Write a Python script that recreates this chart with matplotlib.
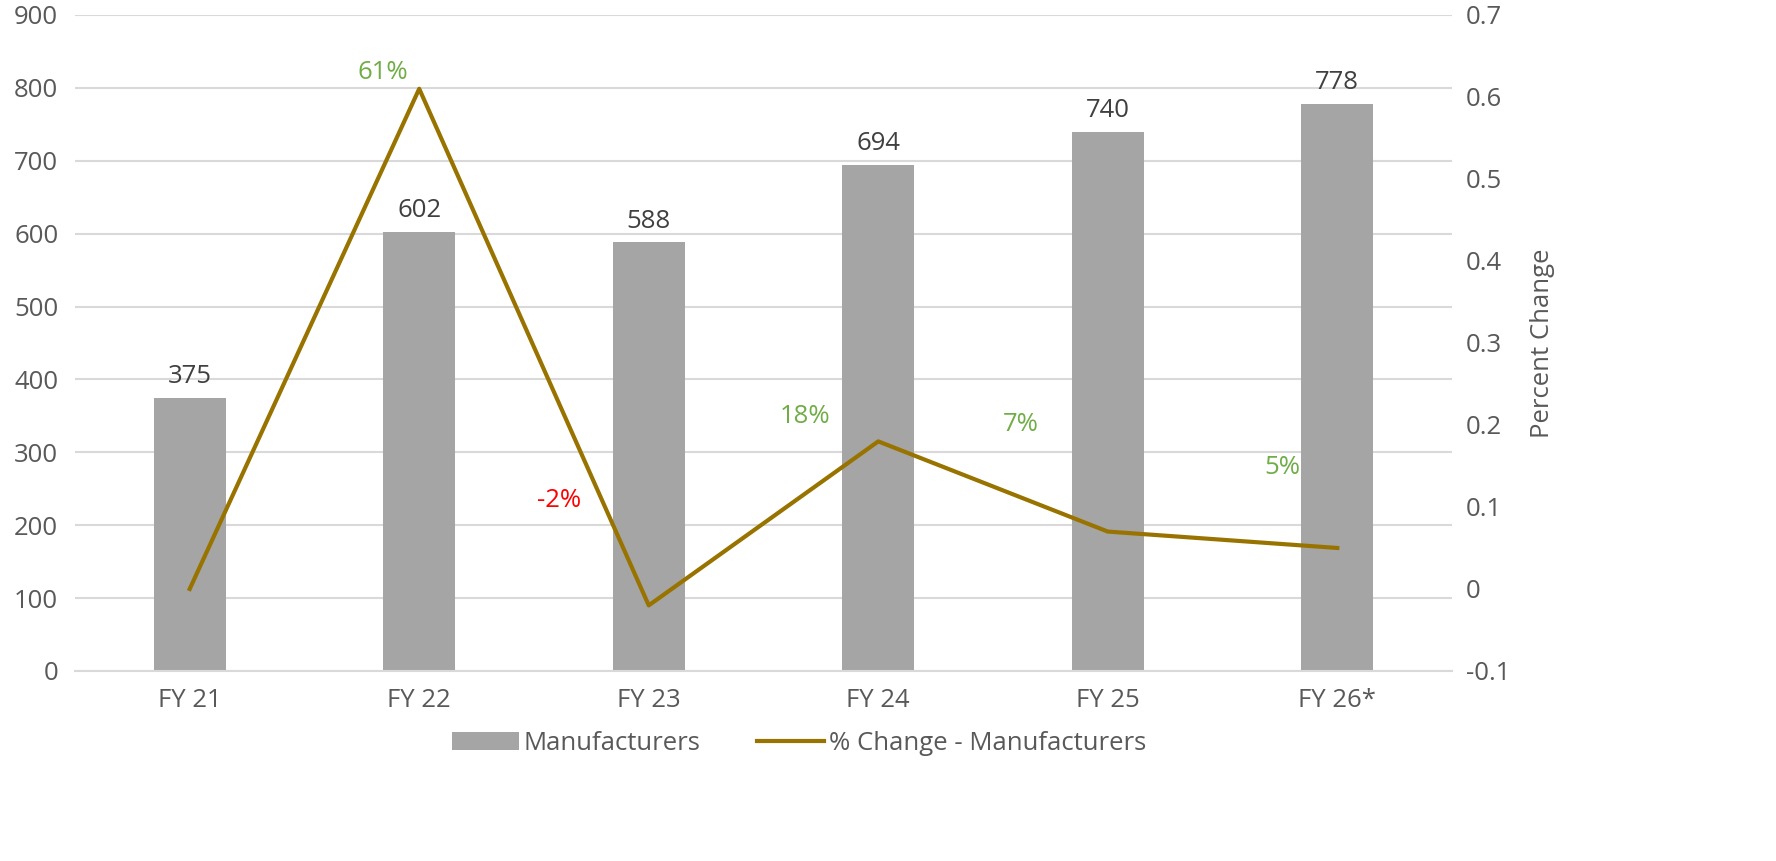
import matplotlib.pyplot as plt
from matplotlib.lines import Line2D
from matplotlib.patches import Patch

plt.rcParams['font.family'] = ['Open Sans', 'DejaVu Sans']

categories = ['FY 21', 'FY 22', 'FY 23', 'FY 24', 'FY 25', 'FY 26*']
manufacturers = [375, 602, 588, 694, 740, 778]
pct_change = [0.0, 0.61, -0.02, 0.18, 0.07, 0.05]
pct_labels = ['', '61%', '-2%', '18%', '7%', '5%']
pct_colors = ['#70AD47', '#70AD47', '#FF0000', '#70AD47', '#70AD47', '#70AD47']

# where each % label sits relative to its point (category units, pct units)
label_offsets = [(0, 0), (-0.16, 0.02), (-0.39, 0.128), (-0.32, 0.03), (-0.38, 0.13), (-0.24, 0.098)]

bar_color = '#A5A5A5'
line_color = '#997300'
text_color = '#595959'
grid_color = '#D9D9D9'
fs = 18.5

fig = plt.figure(figsize=(17.76, 8.61), dpi=100)
ax = fig.add_axes([0.0422, 0.2207, 0.7754, 0.7619])
ax2 = ax.twinx()

x = list(range(len(categories)))
ax.bar(x, manufacturers, width=0.315, color=bar_color, zorder=2)
for xi, v in zip(x, manufacturers):
    ax.text(xi, v + 12, str(v), ha='center', va='bottom', fontsize=fs, color='#404040')

ax.set_ylim(0, 900)
ax.set_xlim(-0.5, 5.5)
ax.set_yticks(range(0, 901, 100))
ax.set_xticks(x)
ax.set_xticklabels(categories)
ax.grid(axis='y', color=grid_color, linewidth=1.5, zorder=0)
ax.set_axisbelow(True)

ax2.plot(x, pct_change, color=line_color, linewidth=3, zorder=3)
ax2.set_ylim(-0.1, 0.7)
ax2.set_yticks([-0.1, 0, 0.1, 0.2, 0.3, 0.4, 0.5, 0.6, 0.7])
ax2.set_yticklabels(['-0.1', '0', '0.1', '0.2', '0.3', '0.4', '0.5', '0.6', '0.7'])
ax2.set_ylabel('Percent Change', fontsize=fs, color=text_color, labelpad=14)
for xi, v, lab, c, (dx, dy) in zip(x, pct_change, pct_labels, pct_colors, label_offsets):
    if lab:
        ax2.text(xi + dx, v + dy, lab, ha='center', va='center', fontsize=fs, color=c)

for a in (ax, ax2):
    for s in a.spines.values():
        s.set_visible(False)
    a.tick_params(length=0, labelsize=fs, labelcolor=text_color)
ax.spines['bottom'].set_visible(True)
ax.spines['bottom'].set_color(grid_color)
ax.spines['bottom'].set_linewidth(1.5)
ax.tick_params(axis='y', pad=12)
ax.tick_params(axis='x', pad=12)
ax2.tick_params(axis='y', pad=10)

handles = [Patch(facecolor=bar_color), Line2D([0], [0], color=line_color, linewidth=3)]
fig.legend(handles, ['Manufacturers', '% Change - Manufacturers'], loc='center',
           bbox_to_anchor=(0.45, 0.137), ncol=2, frameon=False, fontsize=fs,
           labelcolor=text_color, handlelength=2.6, handletextpad=0.2, columnspacing=2.2)

fig.savefig('out.png', dpi=100)
